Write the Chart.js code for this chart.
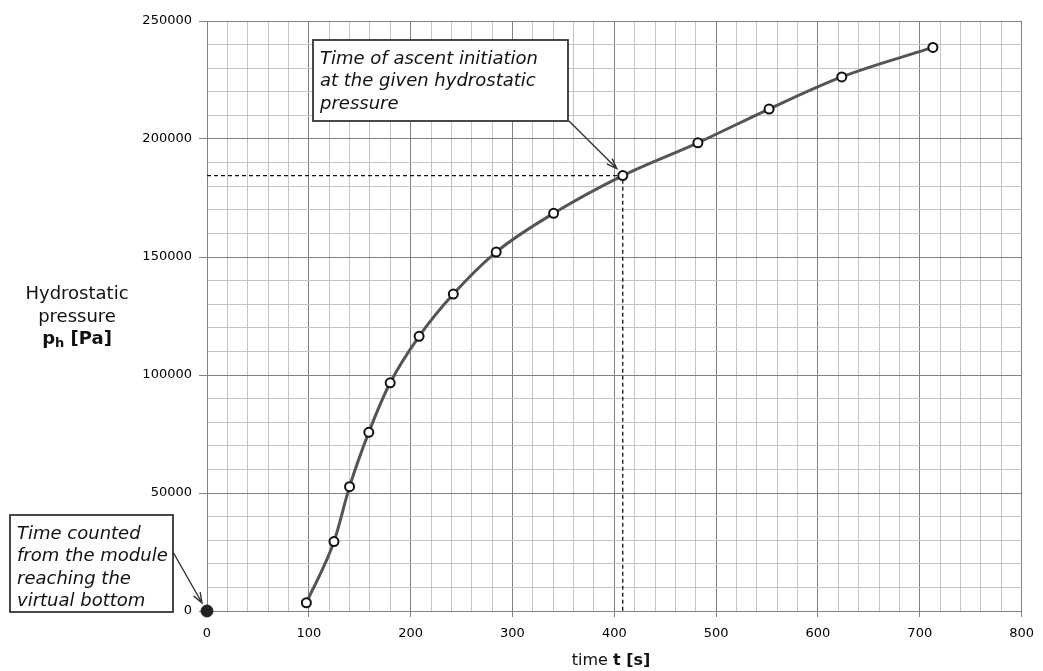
<!DOCTYPE html>
<html>
<head>
<meta charset="utf-8">
<script src="https://cdn.jsdelivr.net/npm/chart.js@4/dist/chart.umd.min.js"></script>
<style>
body{margin:0;background:#fff;}
canvas{display:block;}
</style>
</head>
<body>
<canvas id="c" width="1043" height="671"></canvas>
<script>
// measured points (time s, pressure Pa)
var timeData = [97.6, 124.7, 140.0, 158.9, 179.9, 208.3, 241.9, 284.0, 340.4, 408.3, 482.1, 552.0, 623.4, 712.9];
var pressureData = [3500, 29400, 52700, 75700, 96700, 116400, 134300, 152100, 168500, 184500, 198400, 212700, 226300, 238800];
var startPoint = [0, 0];
var ascentTime = 408.3;
var ascentPressure = 184500;
var xTickLabels = [0, 100, 200, 300, 400, 500, 600, 700, 800];
var yTickLabels = [0, 50000, 100000, 150000, 200000, 250000];

var font = "DejaVu Sans";

var mainPts = [];
for(var i=0;i<timeData.length;i++){
    mainPts.push({x:timeData[i], y:pressureData[i]});
}

var isMajor = function(v, list){
    return list.indexOf(Math.round(v)) >= 0;
};

var drawArrow = function(ctx, x1, y1, x2, y2){
    var a = Math.atan2(y2-y1, x2-x1);
    var h = 11;
    ctx.beginPath();
    ctx.moveTo(x1, y1);
    ctx.lineTo(x2, y2);
    ctx.moveTo(x2 - h*Math.cos(a-0.35), y2 - h*Math.sin(a-0.35));
    ctx.lineTo(x2, y2);
    ctx.lineTo(x2 - h*Math.cos(a+0.35), y2 - h*Math.sin(a+0.35));
    ctx.stroke();
};

var drawNote = function(ctx, x, y, w, h, lines){
    ctx.fillStyle = "#fff";
    ctx.fillRect(x, y, w, h);
    ctx.strokeStyle = "#333";
    ctx.lineWidth = 1.8;
    ctx.strokeRect(x, y, w, h);
    ctx.fillStyle = "#111";
    ctx.font = "italic 18px '" + font + "'";
    ctx.textAlign = "left";
    ctx.textBaseline = "middle";
    for(var i=0;i<lines.length;i++){
        ctx.fillText(lines[i], x + 7, y + 19 + i*22.5);
    }
};

var notesPlugin = {
    id: "notes",
    afterDraw: function(chart){
        var ctx = chart.ctx;
        var xs = chart.scales.x, ys = chart.scales.y;
        ctx.save();

        // y title
        ctx.fillStyle = "#111";
        ctx.textAlign = "center";
        ctx.textBaseline = "middle";
        ctx.font = "18px '" + font + "'";
        ctx.fillText("Hydrostatic", 77, 294);
        ctx.fillText("pressure", 77, 317);
        ctx.font = "bold 18px '" + font + "'";
        var wp = ctx.measureText("p").width;
        var wr = ctx.measureText(" [Pa]").width;
        ctx.font = "bold 13px '" + font + "'";
        var wh = ctx.measureText("h").width;
        var sx = 77 - (wp + wh + wr)/2;
        ctx.textAlign = "left";
        ctx.font = "bold 18px '" + font + "'";
        ctx.fillText("p", sx, 339);
        ctx.fillText(" [Pa]", sx + wp + wh, 339);
        ctx.font = "bold 13px '" + font + "'";
        ctx.fillText("h", sx + wp, 344);

        // x title
        ctx.font = "16px '" + font + "'";
        var w1 = ctx.measureText("time ").width;
        ctx.font = "bold 16px '" + font + "'";
        var w2 = ctx.measureText("t [s]").width;
        var tx = 611 - (w1 + w2)/2;
        ctx.font = "16px '" + font + "'";
        ctx.fillText("time ", tx, 661);
        ctx.font = "bold 16px '" + font + "'";
        ctx.fillText("t [s]", tx + w1, 661);

        // notes with arrows
        ctx.strokeStyle = "#333";
        ctx.lineWidth = 1.4;
        var px = xs.getPixelForValue(ascentTime), py = ys.getPixelForValue(ascentPressure);
        drawArrow(ctx, 569, 121, px - 6, py - 7);
        var zx = xs.getPixelForValue(startPoint[0]), zy = ys.getPixelForValue(startPoint[1]);
        drawArrow(ctx, 173, 552, zx - 5, zy - 8);

        drawNote(ctx, 313, 40, 255, 81, ["Time of ascent initiation", "at the given hydrostatic", "pressure"]);
        drawNote(ctx, 10, 515, 163, 97, ["Time counted", "from the module", "reaching the", "virtual bottom"]);

        ctx.restore();
    }
};

new Chart(document.getElementById("c").getContext("2d"), {
    type: "line",
    data: {
        datasets: [{
            data: mainPts,
            borderColor: "#555",
            borderWidth: 3,
            cubicInterpolationMode: "monotone",
            pointRadius: 4.5,
            pointBorderWidth: 2,
            pointBorderColor: "#111",
            pointBackgroundColor: "#fff",
            clip: false,
            order: 0
        }, {
            data: [{x:startPoint[0], y:startPoint[1]}],
            showLine: false,
            pointRadius: 6,
            pointBackgroundColor: "#222",
            pointBorderColor: "#222",
            clip: false,
            order: 1
        }, {
            data: [{x:0, y:ascentPressure}, {x:ascentTime, y:ascentPressure}, {x:ascentTime, y:0}],
            borderColor: "#111",
            borderWidth: 1.3,
            borderDash: [4, 3],
            pointRadius: 0,
            tension: 0,
            order: 2
        }]
    },
    options: {
        responsive: false,
        animation: false,
        layout: {padding: {top: 21, right: 19, bottom: 0, left: 0}},
        plugins: {
            legend: {display: false},
            tooltip: {enabled: false}
        },
        scales: {
            x: {
                type: "linear",
                min: 0,
                max: 800,
                afterFit: function(s){ s.height = 60; },
                border: {color: "#808080", width: 1},
                grid: {
                    color: function(c){ return isMajor(c.tick.value, xTickLabels) ? "#808080" : "#c4c4c4"; },
                    tickColor: function(c){ return isMajor(c.tick.value, xTickLabels) ? "#808080" : "rgba(0,0,0,0)"; },
                    tickLength: 6,
                    lineWidth: 1
                },
                ticks: {
                    stepSize: 20,
                    autoSkip: false,
                    maxRotation: 0,
                    padding: 9,
                    color: "#000",
                    font: {family: font, size: 13},
                    callback: function(v){ return isMajor(v, xTickLabels) ? String(v) : ""; }
                }
            },
            y: {
                type: "linear",
                min: 0,
                max: 250000,
                afterFit: function(s){ s.width = 207; },
                border: {color: "#808080", width: 1},
                grid: {
                    color: function(c){ return isMajor(c.tick.value, yTickLabels) ? "#808080" : "#c4c4c4"; },
                    tickColor: function(c){ return isMajor(c.tick.value, yTickLabels) ? "#808080" : "rgba(0,0,0,0)"; },
                    tickLength: 8,
                    lineWidth: 1
                },
                ticks: {
                    stepSize: 10000,
                    autoSkip: false,
                    padding: 7,
                    color: "#000",
                    font: {family: font, size: 13},
                    callback: function(v){ return isMajor(v, yTickLabels) ? String(v) : ""; }
                }
            }
        }
    },
    plugins: [notesPlugin]
});
</script>
</body>
</html>
